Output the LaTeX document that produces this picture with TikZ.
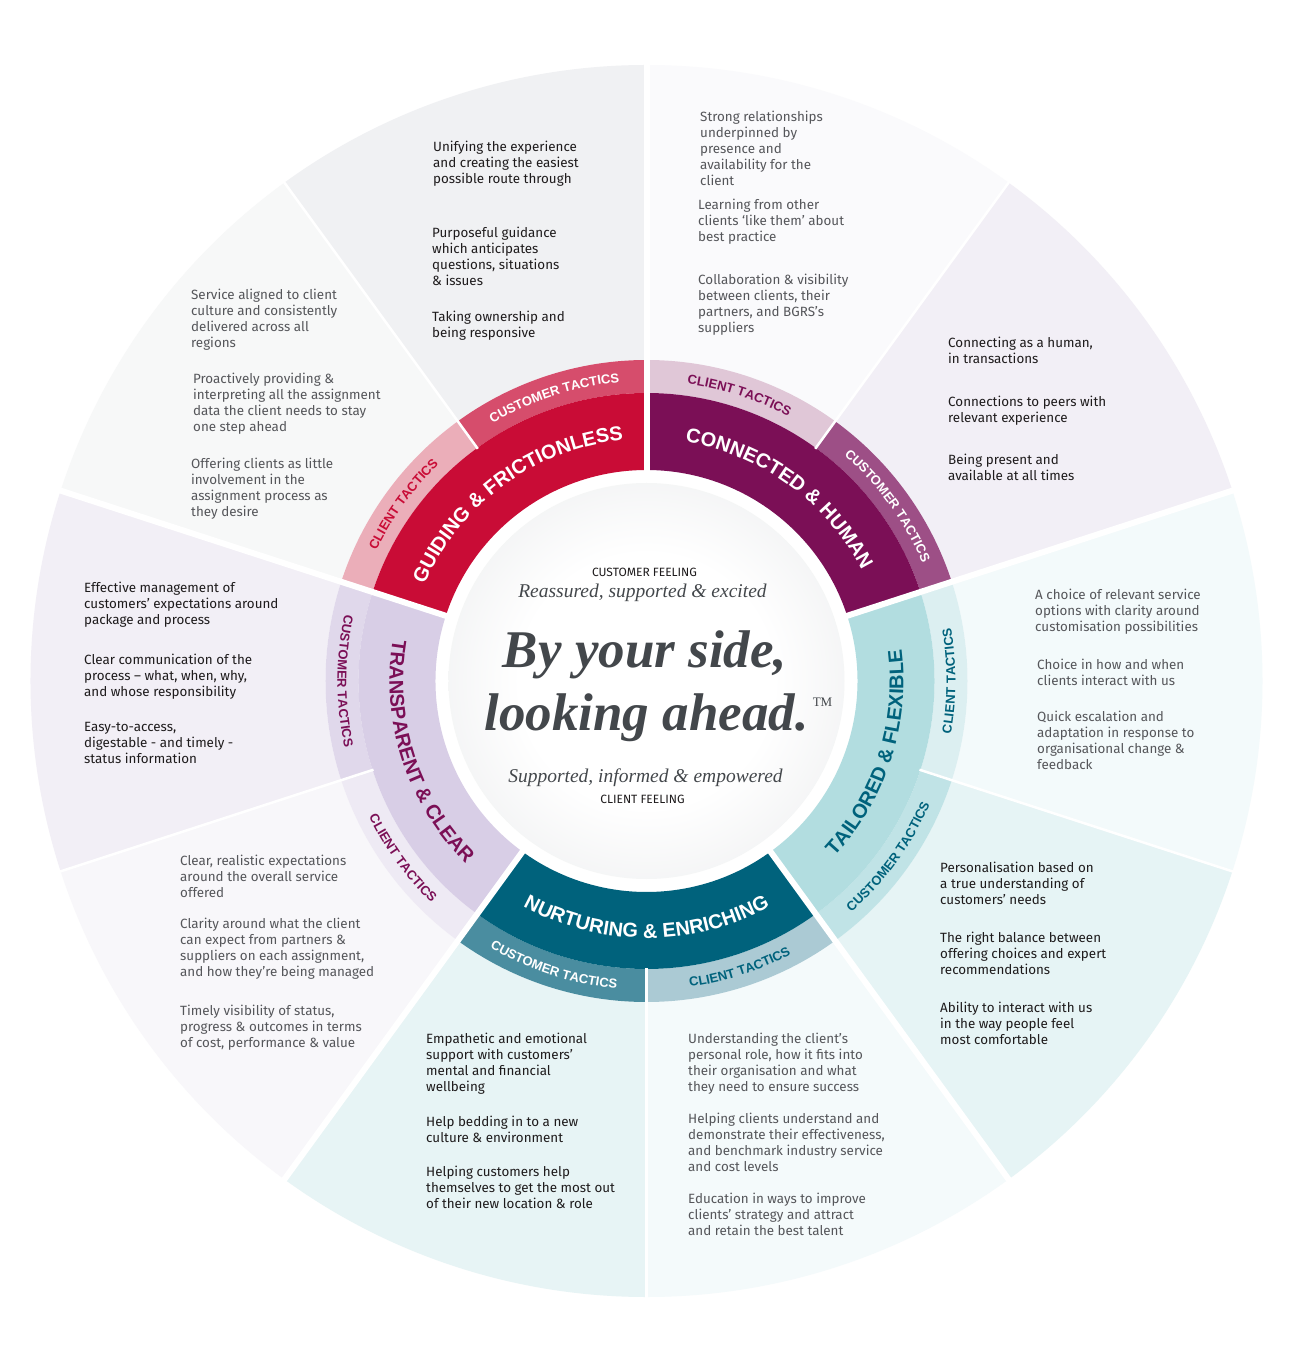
\documentclass[tikz,border=0pt]{standalone}
\usepackage{fontspec}
\setmainfont{Fira Sans}
\newfontfamily\titlefont{Liberation Sans}
\newfontfamily\slogfont{Liberation Serif}
\usetikzlibrary{decorations.text}
% band colours
\definecolor{gfred}{HTML}{C90C36}
\definecolor{gfcustband}{HTML}{D64D6C}
\definecolor{gfclientband}{HTML}{EBAEB9}
\definecolor{chplum}{HTML}{7B0F56}
\definecolor{chclientband}{HTML}{E0C7D7}
\definecolor{chcustband}{HTML}{9D4F86}
\definecolor{tfteal}{HTML}{B2DDE0}
\definecolor{tfclientband}{HTML}{DCEFF1}
\definecolor{tfcustband}{HTML}{C0E3E6}
\definecolor{nepetrol}{HTML}{00627C}
\definecolor{necustband}{HTML}{4A8DA0}
\definecolor{neclientband}{HTML}{ABCAD4}
\definecolor{tclilac}{HTML}{D8CEE6}
\definecolor{tccustband}{HTML}{E0D8EB}
\definecolor{tcclientband}{HTML}{EEEAF4}
% outer zones
\definecolor{gfcustzone}{HTML}{F0F1F3}
\definecolor{gfclientzone}{HTML}{F7F8F8}
\definecolor{chclientzone}{HTML}{FAFAFC}
\definecolor{chcustzone}{HTML}{F2EFF6}
\definecolor{tfclientzone}{HTML}{F3FAFB}
\definecolor{tfcustzone}{HTML}{E6F4F5}
\definecolor{neclientzone}{HTML}{F4FAFB}
\definecolor{necustzone}{HTML}{E7F4F5}
\definecolor{tcclientzone}{HTML}{F8F7FA}
\definecolor{tccustzone}{HTML}{F2EFF6}
% text
\definecolor{custtext}{HTML}{1E1B1C}
\definecolor{clienttext}{HTML}{55565A}
\definecolor{slogan}{HTML}{43474B}
\definecolor{discedge}{HTML}{C9CCD0}
\pgfdeclareradialshading{discshade}{\pgfpoint{0bp}{0bp}}{color(0bp)=(white); color(16bp)=(white); color(38bp)=(discedge!45); color(50bp)=(discedge)}

\begin{document}
\begin{tikzpicture}[x=1pt, y=1pt,
  custblurb/.style={anchor=north west, inner sep=0pt, align=left, text=custtext, font=\fontsize{13.4}{16}\selectfont},
  clientblurb/.style={custblurb, text=clienttext},
  catgap/.style={white, line width=6pt},
  subgap/.style={white, line width=2.5pt}]

  \fill[white] (-646.5,-681) rectangle (652.5,681);
  \useasboundingbox (-646.5,-681) rectangle (652.5,681);

  % outer zones, tactic bands, main bands
  \foreach \a/\c in {90/gfcustzone, 126/gfclientzone, 18/chcustzone, 54/chclientzone, -18/tfclientzone, -54/tfcustzone, -90/neclientzone, -126/necustzone, 162/tccustzone, 198/tcclientzone}
    \fill[\c] (\a:321) arc[start angle=\a, end angle=\a+36, radius=321] -- ({\a+36}:616) arc[start angle=\a+36, end angle=\a, radius=616] -- cycle;
  \foreach \a/\c in {90/gfcustband, 126/gfclientband, 18/chcustband, 54/chclientband, -18/tfclientband, -54/tfcustband, -90/neclientband, -126/necustband, 162/tccustband, 198/tcclientband}
    \fill[\c] (\a:288) arc[start angle=\a, end angle=\a+36, radius=288] -- ({\a+36}:321) arc[start angle=\a+36, end angle=\a, radius=321] -- cycle;
  \foreach \a/\c in {90/gfred, 18/chplum, -54/tfteal, -126/nepetrol, 162/tclilac}
    \fill[\c] (\a:211) arc[start angle=\a, end angle=\a+72, radius=211] -- ({\a+72}:288) arc[start angle=\a+72, end angle=\a, radius=288] -- cycle;
  \foreach \a in {90,18,-54,-126,162}
    \draw[catgap] (\a:205) -- (\a:622);
  \foreach \a in {126,54,-18,-90,198}
    \draw[subgap] (\a:287) -- (\a:622);

  \shade[shading=discshade] (0,0) circle[radius=198];

  % category titles
  \path[decorate, decoration={text along path, text align=center, text={|\titlefont\bfseries\fontsize{20}{20}\selectfont\color{white}|GUIDING {\&} FRICTIONLESS}}] (162:242) arc[start angle=162, end angle=90, radius=242];
  \path[decorate, decoration={text along path, text align=center, text={|\titlefont\bfseries\fontsize{20}{20}\selectfont\color{white}|CONNECTED {\&} HUMAN}}] (90:242) arc[start angle=90, end angle=18, radius=242];
  \path[decorate, decoration={text along path, text align=center, text={|\titlefont\bfseries\fontsize{20}{20}\selectfont\color{nepetrol}|TAILORED {\&} FLEXIBLE}}] (-54:257) arc[start angle=-54, end angle=18, radius=257];
  \path[decorate, decoration={text along path, text align=center, text={|\titlefont\bfseries\fontsize{20}{20}\selectfont\color{white}|NURTURING {\&} ENRICHING}}] (-126:257) arc[start angle=-126, end angle=-54, radius=257];
  \path[decorate, decoration={text along path, text align=center, text={|\titlefont\bfseries\fontsize{20}{20}\selectfont\color{chplum}|TRANSPARENT {\&} CLEAR}}] (162:257) arc[start angle=162, end angle=234, radius=257];

  % tactic labels
  \path[decorate, decoration={text along path, text align=center, text={|\titlefont\bfseries\fontsize{13}{13}\selectfont\color{white}|CUSTOMER TACTICS}}] (126:300) arc[start angle=126, end angle=90, radius=300];
  \path[decorate, decoration={text along path, text align=center, text={|\titlefont\bfseries\fontsize{13}{13}\selectfont\color{gfred}|CLIENT TACTICS}}] (162:300) arc[start angle=162, end angle=126, radius=300];
  \path[decorate, decoration={text along path, text align=center, text={|\titlefont\bfseries\fontsize{13}{13}\selectfont\color{chplum}|CLIENT TACTICS}}] (90:300) arc[start angle=90, end angle=54, radius=300];
  \path[decorate, decoration={text along path, text align=center, text={|\titlefont\bfseries\fontsize{13}{13}\selectfont\color{white}|CUSTOMER TACTICS}}] (54:300) arc[start angle=54, end angle=18, radius=300];
  \path[decorate, decoration={text along path, text align=center, text={|\titlefont\bfseries\fontsize{13}{13}\selectfont\color{nepetrol}|CLIENT TACTICS}}] (-18:309) arc[start angle=-18, end angle=18, radius=309];
  \path[decorate, decoration={text along path, text align=center, text={|\titlefont\bfseries\fontsize{13}{13}\selectfont\color{nepetrol}|CUSTOMER TACTICS}}] (-54:309) arc[start angle=-54, end angle=-18, radius=309];
  \path[decorate, decoration={text along path, text align=center, text={|\titlefont\bfseries\fontsize{13}{13}\selectfont\color{nepetrol}|CLIENT TACTICS}}] (-90:309) arc[start angle=-90, end angle=-54, radius=309];
  \path[decorate, decoration={text along path, text align=center, text={|\titlefont\bfseries\fontsize{13}{13}\selectfont\color{white}|CUSTOMER TACTICS}}] (-126:309) arc[start angle=-126, end angle=-90, radius=309];
  \path[decorate, decoration={text along path, text align=center, text={|\titlefont\bfseries\fontsize{13}{13}\selectfont\color{chplum}|CLIENT TACTICS}}] (198:309) arc[start angle=198, end angle=234, radius=309];
  \path[decorate, decoration={text along path, text align=center, text={|\titlefont\bfseries\fontsize{13}{13}\selectfont\color{chplum}|CUSTOMER TACTICS}}] (162:309) arc[start angle=162, end angle=198, radius=309];

  % centre
  \node[anchor=base, text=custtext, font=\fontsize{12}{12}\selectfont] (custfeel) at (-2,104) {CUSTOMER FEELING};
  \node[anchor=base, text=slogan, font=\slogfont\itshape\fontsize{19.5}{19.5}\selectfont] (custwords) at (-4,83) {Reassured, supported \& excited};
  \node[anchor=base, text=slogan, font=\slogfont\bfseries\itshape\fontsize{53}{53}\selectfont] (sloganA) at (-1.5,13) {By your side,};
  \node[anchor=base, text=slogan, font=\slogfont\bfseries\itshape\fontsize{53}{53}\selectfont] (sloganB) at (0,-49) {looking ahead.};
  \node[anchor=base, text=slogan, font=\slogfont\fontsize{13}{13}\selectfont] (tm) at (176,-26) {TM};
  \node[anchor=base, text=slogan, font=\slogfont\itshape\fontsize{19.5}{19.5}\selectfont] (clientwords) at (-1,-101) {Supported, informed \& empowered};
  \node[anchor=base, text=custtext, font=\fontsize{12}{12}\selectfont] (clientfeel) at (-4,-122) {CLIENT FEELING};

  % guiding & frictionless
  \node[custblurb] (gfcust1) at (-213.5,540) {Unifying the experience\\and creating the easiest\\possible route through};
  \node[custblurb] (gfcust2) at (-214.5,454) {Purposeful guidance\\which anticipates\\questions, situations\\\& issues};
  \node[custblurb] (gfcust3) at (-214.5,370) {Taking ownership and\\being responsive};
  \node[clientblurb] (gfclient1) at (-455.5,392) {Service aligned to client\\culture and consistently\\delivered across all\\regions};
  \node[clientblurb] (gfclient2) at (-453.5,308) {Proactively providing \&\\interpreting all the assignment\\data the client needs to stay\\one step ahead};
  \node[clientblurb] (gfclient3) at (-455.5,223) {Offering clients as little\\involvement in the\\assignment process as\\they desire};

  % connected & human
  \node[clientblurb] (chclient1) at (53.5,570) {Strong relationships\\underpinned by\\presence and\\availability for the\\client};
  \node[clientblurb] (chclient2) at (51.5,482) {Learning from other\\clients ‘like them’ about\\best practice};
  \node[clientblurb] (chclient3) at (51.5,407) {Collaboration \& visibility\\between clients, their\\partners, and BGRS's\\suppliers};
  \node[custblurb] (chcust1) at (301.5,344) {Connecting as a human,\\in transactions};
  \node[custblurb] (chcust2) at (301.5,285) {Connections to peers with\\relevant experience};
  \node[custblurb] (chcust3) at (301.5,227) {Being present and\\available at all times};

  % tailored & flexible
  \node[clientblurb] (tfclient1) at (388.5,92) {A choice of relevant service\\options with clarity around\\customisation possibilities};
  \node[clientblurb] (tfclient2) at (390.5,22) {Choice in how and when\\clients interact with us};
  \node[clientblurb] (tfclient3) at (390.5,-30) {Quick escalation and\\adaptation in response to\\organisational change \&\\feedback};
  \node[custblurb] (tfcust1) at (293.5,-181) {Personalisation based on\\a true understanding of\\customers' needs};
  \node[custblurb] (tfcust2) at (293.5,-251) {The right balance between\\offering choices and expert\\recommendations};
  \node[custblurb] (tfcust3) at (293.5,-321) {Ability to interact with us\\in the way people feel\\most comfortable};

  % nurturing & enriching
  \node[clientblurb] (neclient1) at (41.5,-352) {Understanding the client’s\\personal role, how it fits into\\their organisation and what\\they need to ensure success};
  \node[clientblurb] (neclient2) at (41.5,-432) {Helping clients understand and\\demonstrate their effectiveness,\\and benchmark industry service\\and cost levels};
  \node[clientblurb] (neclient3) at (41.5,-512) {Education in ways to improve\\clients’ strategy and attract\\and retain the best talent};
  \node[custblurb] (necust1) at (-220.5,-352) {Empathetic and emotional\\support with customers’\\mental and financial\\wellbeing};
  \node[custblurb] (necust2) at (-220.5,-435) {Help bedding in to a new\\culture \& environment};
  \node[custblurb] (necust3) at (-220.5,-485) {Helping customers help\\themselves to get the most out\\of their new location \& role};

  % transparent & clear
  \node[clientblurb] (tcclient1) at (-466.5,-174) {Clear, realistic expectations\\around the overall service\\offered};
  \node[clientblurb] (tcclient2) at (-466.5,-237) {Clarity around what the client\\can expect from partners \&\\suppliers on each assignment,\\and how they’re being managed};
  \node[clientblurb] (tcclient3) at (-466.5,-324) {Timely visibility of status,\\progress \& outcomes in terms\\of cost, performance \& value};
  \node[custblurb] (tccust1) at (-562.5,99) {Effective management of\\customers’ expectations around\\package and process};
  \node[custblurb] (tccust2) at (-562.5,27) {Clear communication of the\\process – what, when, why,\\and whose responsibility};
  \node[custblurb] (tccust3) at (-562.5,-41) {Easy-to-access,\\digestable - and timely -\\status information};
\end{tikzpicture}
\end{document}
